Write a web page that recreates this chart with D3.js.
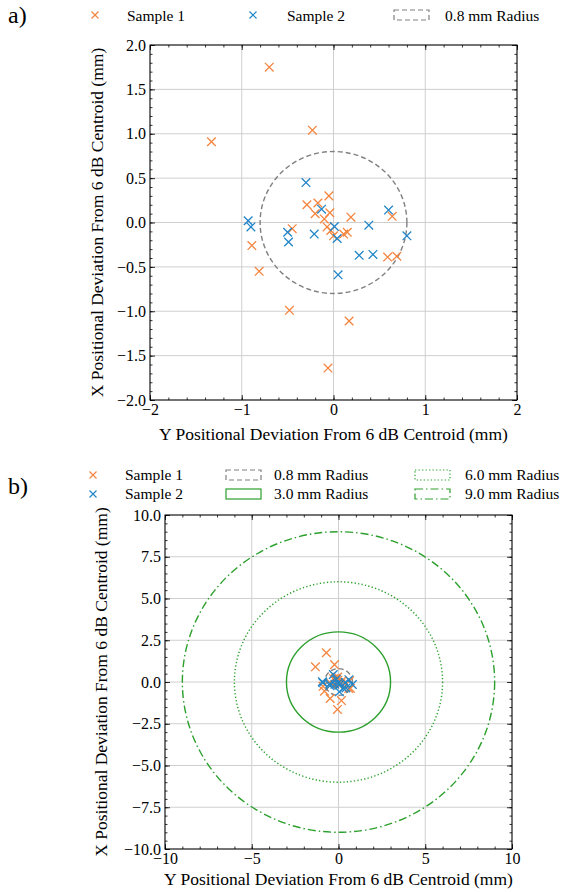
<!DOCTYPE html>
<html>
<head>
<meta charset="utf-8">
<script src="https://cdn.jsdelivr.net/npm/d3@7"></script>
<style>
  body { margin: 0; background: #fff; }
  text { font-family: "Liberation Serif", "Times New Roman", "DejaVu Serif", serif !important; }
</style>
</head>
<body>
<div id="chart"></div>
<script>
// sample 1 (orange) deviations: [y deviation, x deviation] in mm
var sample1 = [[-0.70,1.75],[-1.33,0.91],[-0.23,1.04],[-0.05,0.30],[-0.29,0.20],[-0.17,0.22],
  [-0.20,0.10],[-0.04,0.11],[-0.10,0.04],[-0.07,-0.05],[-0.03,-0.09],[0.00,-0.15],[0.11,-0.13],
  [0.15,-0.11],[0.19,0.06],[0.64,0.07],[0.59,-0.39],[0.69,-0.38],[0.17,-1.11],[-0.06,-1.64],
  [-0.48,-0.99],[-0.81,-0.55],[-0.89,-0.26],[-0.45,-0.07]];
// sample 2 (blue)
var sample2 = [[-0.30,0.45],[-0.13,0.15],[-0.93,0.02],[-0.90,-0.05],[-0.50,-0.11],[-0.49,-0.22],
  [-0.21,-0.13],[0.01,-0.045],[0.04,-0.18],[0.385,-0.03],[0.60,0.14],[0.80,-0.15],
  [0.28,-0.37],[0.43,-0.36],[0.05,-0.59]];

var radiiTop = [0.8];
var radiiBottom = [0.8, 3.0, 6.0, 9.0];
var radiusLabels = ["0.8 mm Radius", "3.0 mm Radius", "6.0 mm Radius", "9.0 mm Radius"];
var seriesLabels = ["Sample 1", "Sample 2"];

var topXTicks = [-2, -1, 0, 1, 2];
var topYTicks = [-2, -1.5, -1, -0.5, 0, 0.5, 1, 1.5, 2];
var botXTicks = [-10, -5, 0, 5, 10];
var botYTicks = [-10, -7.5, -5, -2.5, 0, 2.5, 5, 7.5, 10];

var FONT = "'Liberation Serif', 'Times New Roman', 'DejaVu Serif', serif";
var orange = "#f5853f", blue = "#2185c8", green = "#2ca02c", gray = "#808080";
var circleStyle = {
  0.8: {color: gray, dash: "5,3", w: 1.4},
  3: {color: green, dash: null, w: 1.4},
  6: {color: green, dash: "1.3,2.2", w: 1.4},
  9: {color: green, dash: "8,3,1.5,3", w: 1.4}
};

var svg = d3.select("#chart").append("svg")
  .attr("width", 569).attr("height", 892)
  .attr("font-family", FONT);

function xMark(g, x, y, s, color, w) {
  g.append("path")
    .attr("d", "M" + (x - s) + "," + (y - s) + "L" + (x + s) + "," + (y + s) +
               "M" + (x - s) + "," + (y + s) + "L" + (x + s) + "," + (y - s))
    .attr("stroke", color).attr("stroke-width", w || 1.3).attr("fill", "none");
}

function label(g, x, y, size, t) {
  return g.append("text").attr("x", x).attr("y", y)
    .attr("font-family", FONT).style("font-size", size + "px").text(t);
}

function panel(cfg) {
  var x = d3.scaleLinear().domain(cfg.xd).range(cfg.xr);
  var y = d3.scaleLinear().domain(cfg.yd).range(cfg.yr);
  var g = svg.append("g");

  // grid
  g.selectAll(".gx").data(cfg.xt).enter().append("line")
    .attr("x1", d => x(d)).attr("x2", d => x(d))
    .attr("y1", cfg.yr[0]).attr("y2", cfg.yr[1])
    .attr("stroke", "#cfcfcf").attr("stroke-width", 1);
  g.selectAll(".gy").data(cfg.yt).enter().append("line")
    .attr("y1", d => y(d)).attr("y2", d => y(d))
    .attr("x1", cfg.xr[0]).attr("x2", cfg.xr[1])
    .attr("stroke", "#cfcfcf").attr("stroke-width", 1);

  // radius circles
  cfg.radii.forEach(function (r) {
    var st = circleStyle[r];
    g.append("ellipse")
      .attr("cx", x(0)).attr("cy", y(0))
      .attr("rx", x(r) - x(0)).attr("ry", y(0) - y(r))
      .attr("fill", "none").attr("stroke", st.color)
      .attr("stroke-width", st.w).attr("stroke-dasharray", st.dash);
  });

  // points
  sample1.forEach(d => xMark(g, x(d[0]), y(d[1]), cfg.ms, orange, 1.3));
  sample2.forEach(d => xMark(g, x(d[0]), y(d[1]), cfg.ms, blue, 1.3));

  // axes with inward ticks
  var x0 = cfg.xr[0], x1 = cfg.xr[1], y0 = cfg.yr[0], y1 = cfg.yr[1];
  var minX = d3.range(cfg.xd[0], cfg.xd[1] + 1e-9, cfg.xm);
  var minY = d3.range(cfg.yd[0], cfg.yd[1] + 1e-9, cfg.ym);

  function ax(gen, tr, ticks, size, lab) {
    var a = gen.tickValues(ticks).tickSizeInner(size).tickSizeOuter(0)
      .tickPadding(lab ? 4 : 0);
    a.tickFormat(lab ? lab : "");
    var s = g.append("g").attr("transform", tr).call(a)
      .attr("font-family", FONT);
    s.select(".domain").remove();
    s.selectAll("line").attr("stroke", "#000").attr("stroke-width", 0.8);
    s.selectAll("text").style("font-size", "16px").attr("font-family", FONT).attr("fill", "#000");
    return s;
  }
  ax(d3.axisBottom(x), "translate(0," + y0 + ")", cfg.xt, -5, cfg.xf);
  ax(d3.axisBottom(x), "translate(0," + y0 + ")", minX, -2.5);
  ax(d3.axisTop(x), "translate(0," + y1 + ")", cfg.xt, -5);
  ax(d3.axisTop(x), "translate(0," + y1 + ")", minX, -2.5);
  ax(d3.axisLeft(y), "translate(" + x0 + ",0)", cfg.yt, -5, cfg.yf);
  ax(d3.axisLeft(y), "translate(" + x0 + ",0)", minY, -2.5);
  ax(d3.axisRight(y), "translate(" + x1 + ",0)", cfg.yt, -5);
  ax(d3.axisRight(y), "translate(" + x1 + ",0)", minY, -2.5);

  g.append("rect").attr("x", x0).attr("y", y1)
    .attr("width", x1 - x0).attr("height", y0 - y1)
    .attr("fill", "none").attr("stroke", "#000").attr("stroke-width", 1);

  label(g, (x0 + x1) / 2, y0 + cfg.tdy, 17.5, "Y Positional Deviation From 6 dB Centroid (mm)")
    .attr("text-anchor", "middle");
  label(g, 0, 0, 17.5, "X Positional Deviation From 6 dB Centroid (mm)")
    .attr("transform", "translate(" + cfg.ylx + "," + ((y0 + y1) / 2) + ") rotate(-90)")
    .attr("text-anchor", "middle");
}

panel({xd: [-2, 2], yd: [-2, 2], xr: [150, 517], yr: [400, 45],
  xt: topXTicks, yt: topYTicks, xm: 0.2, ym: 0.1, ms: 4.3, tdy: 40,
  xf: d3.format("d"), yf: d3.format(".1f"), radii: radiiTop, ylx: 103});
panel({xd: [-10, 10], yd: [-10, 10], xr: [165, 512], yr: [849, 515],
  xt: botXTicks, yt: botYTicks, xm: 1, ym: 0.5, ms: 4.3, tdy: 36,
  xf: d3.format("d"), yf: d3.format(".1f"), radii: radiiBottom, ylx: 107});

// panel letters
label(svg, 8, 494, 24, "b)");
label(svg, 8, 23, 24, "a)");

// legends
function legText(x, y, t) { label(svg, x, y + 5, 15.5, t); }
function legPatch(x, y, r) {
  var st = circleStyle[r];
  svg.append("rect").attr("x", x).attr("y", y - 5).attr("width", 35).attr("height", 10)
    .attr("fill", "none").attr("stroke", st.color).attr("stroke-width", 1.2)
    .attr("stroke-dasharray", st.dash);
}
// top legend
xMark(svg, 95, 15, 3.5, orange, 1.2); legText(127, 15.5, seriesLabels[0]);
xMark(svg, 253, 15, 3.5, blue, 1.2); legText(287, 15.5, seriesLabels[1]);
legPatch(394, 15, 0.8); legText(445, 15.5, radiusLabels[0]);
// bottom legend
var r1 = 475, r2 = 494;
xMark(svg, 93, r1, 3.5, orange, 1.2); legText(125, r1, seriesLabels[0]);
xMark(svg, 93, r2, 3.5, blue, 1.2); legText(125, r2, seriesLabels[1]);
legPatch(226, r1, 0.8); legText(274, r1, radiusLabels[0]);
legPatch(226, r2, 3); legText(274, r2, radiusLabels[1]);
legPatch(415, r1, 6); legText(465, r1, radiusLabels[2]);
legPatch(415, r2, 9); legText(465, r2, radiusLabels[3]);
</script>
</body>
</html>
